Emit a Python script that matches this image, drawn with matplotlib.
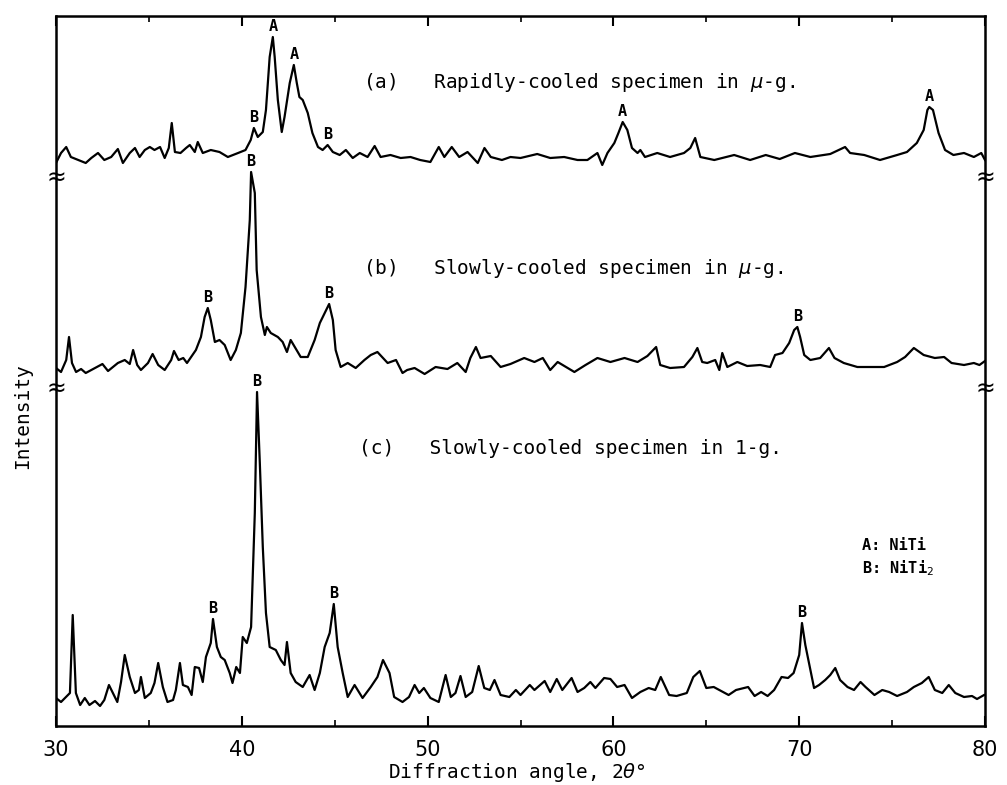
import numpy as np
import matplotlib
matplotlib.use("Agg")
import matplotlib.pyplot as plt
from matplotlib.ticker import MultipleLocator

#-- DATI (intensita' in unita' arbitrarie)

# (a) rapidly-cooled, mu-g
x_a = [30.0, 30.27, 30.55, 30.8, 31.2, 31.6, 31.9, 32.26, 32.6, 32.97, 33.33, 33.6, 33.97, 34.25,
       34.5, 34.78, 35.05, 35.3, 35.6, 35.85, 36.07, 36.23, 36.4, 36.7, 37.0, 37.2, 37.47, 37.63,
       37.9, 38.33, 38.8, 39.25, 39.8, 40.2, 40.48, 40.65, 40.86, 41.13, 41.3, 41.5, 41.67, 41.77,
       41.94, 42.15, 42.3, 42.58, 42.8, 42.96, 43.1, 43.28, 43.55, 43.8, 44.1, 44.35, 44.62, 44.9,
       45.27, 45.6, 45.97, 46.35, 46.77, 47.15, 47.47, 48.0, 48.55, 49.08, 49.6, 50.15, 50.6, 50.9,
       51.3, 51.7, 52.15, 52.7, 53.06, 53.4, 54.0, 54.46, 55.0, 55.9, 56.6, 57.35, 58.07, 58.6,
       59.14, 59.4, 59.68, 60.05, 60.27, 60.5, 60.75, 61.0, 61.3, 61.45, 61.7, 62.36, 63.05, 63.8,
       64.14, 64.4, 64.68, 65.43, 66.5, 67.36, 68.2, 68.95, 69.77, 70.6, 71.67, 72.47, 72.74, 73.5,
       74.35, 75.27, 75.8, 76.33, 76.7, 76.9, 77.0, 77.2, 77.5, 77.85, 78.3, 78.87, 79.4, 79.8, 80.0]
y_a = [563, 573, 579, 569, 566, 563, 568, 573, 566, 569, 577, 563, 573, 578,
       569, 576, 579, 576, 579, 568, 578, 603, 574, 573, 578, 581, 574, 584,
       573, 576, 574, 569, 573, 576, 586, 598, 589, 594, 616, 669, 689, 669,
       626, 594, 609, 643, 661, 643, 629, 626, 613, 593, 579, 576, 581, 574,
       571, 576, 568, 573, 569, 580, 569, 571, 568, 569, 566, 564, 579, 569,
       579, 569, 574, 563, 578, 569, 566, 569, 568, 572, 568, 569, 566, 566,
       573, 561, 573, 583, 593, 604, 596, 578, 573, 576, 569, 573, 569, 573,
       578, 588, 569, 566, 571, 566, 571, 567, 573, 569, 572, 579, 573, 571,
       566, 571, 574, 583, 596, 616, 619, 616, 593, 576, 571, 573, 569, 573, 566]

# (b) slowly-cooled, mu-g
x_b = [30.0, 30.27, 30.55, 30.7, 30.86, 31.08, 31.35, 31.6, 32.1, 32.5, 32.8, 33.33, 33.7, 33.97,
       34.15, 34.37, 34.57, 34.95, 35.2, 35.5, 35.85, 36.2, 36.35, 36.6, 36.85, 37.05, 37.27, 37.53,
       37.8, 38.0, 38.17, 38.33, 38.55, 38.8, 39.08, 39.4, 39.68, 39.95, 40.2, 40.43, 40.5, 40.7,
       40.8, 41.03, 41.24, 41.35, 41.56, 41.94, 42.2, 42.43, 42.63, 42.85, 43.17, 43.55, 43.92, 44.2,
       44.46, 44.7, 44.9, 45.05, 45.32, 45.7, 46.13, 46.6, 46.94, 47.3, 47.85, 48.3, 48.65, 48.9,
       49.3, 49.84, 50.43, 51.07, 51.6, 52.05, 52.3, 52.6, 52.85, 53.4, 53.93, 54.46, 55.2, 55.75,
       56.2, 56.6, 57.0, 57.9, 58.5, 59.14, 59.84, 60.6, 61.3, 61.83, 62.3, 62.52, 63.05, 63.8,
       64.25, 64.52, 64.78, 65.05, 65.48, 65.7, 65.86, 66.13, 66.67, 67.2, 67.9, 68.44, 68.7, 69.1,
       69.46, 69.73, 69.9, 70.05, 70.27, 70.6, 71.13, 71.6, 71.9, 72.4, 73.13, 74.0, 74.57, 75.27,
       75.7, 76.17, 76.7, 77.3, 77.8, 78.2, 78.87, 79.4, 79.7, 80.0]
y_b = [358, 354, 366, 389, 363, 354, 357, 353, 358, 362, 355, 363, 366, 362,
       376, 361, 356, 363, 372, 361, 356, 366, 375, 366, 368, 363, 369, 376,
       389, 409, 418, 406, 384, 386, 381, 366, 376, 393, 439, 506, 554, 533,
       456, 409, 391, 399, 393, 389, 384, 374, 386, 379, 369, 369, 386, 403,
       413, 422, 406, 376, 359, 363, 358, 366, 371, 374, 363, 366, 353, 356,
       358, 352, 359, 357, 363, 354, 368, 379, 368, 370, 359, 362, 368, 364,
       368, 356, 364, 354, 361, 368, 364, 368, 364, 370, 379, 361, 358, 359,
       369, 378, 364, 363, 366, 356, 373, 359, 364, 360, 361, 359, 371, 373,
       383, 396, 399, 389, 371, 366, 368, 378, 368, 363, 359, 359, 359, 364,
       369, 378, 371, 368, 369, 363, 361, 363, 361, 365]

# (c) slowly-cooled, 1-g
x_c = [30.0, 30.27, 30.75, 30.9, 31.07, 31.3, 31.55, 31.8, 32.1, 32.37, 32.6, 32.85, 33.06, 33.3,
       33.5, 33.7, 33.97, 34.25, 34.46, 34.57, 34.78, 35.1, 35.3, 35.5, 35.75, 36.0, 36.3, 36.45,
       36.67, 36.83, 37.1, 37.3, 37.47, 37.7, 37.9, 38.07, 38.33, 38.45, 38.66, 38.87, 39.08, 39.35,
       39.5, 39.7, 39.9, 40.05, 40.27, 40.5, 40.7, 40.82, 40.97, 41.13, 41.3, 41.5, 41.83, 42.1,
       42.3, 42.43, 42.63, 42.9, 43.28, 43.65, 43.92, 44.2, 44.46, 44.73, 44.95, 45.16, 45.43, 45.7,
       46.07, 46.5, 46.94, 47.3, 47.6, 47.95, 48.2, 48.65, 49.0, 49.3, 49.55, 49.8, 50.15, 50.6,
       50.97, 51.25, 51.5, 51.77, 52.05, 52.4, 52.75, 53.05, 53.35, 53.6, 53.93, 54.4, 54.75, 55.0,
       55.5, 55.75, 56.3, 56.6, 56.95, 57.25, 57.75, 58.07, 58.43, 58.76, 59.03, 59.5, 59.84, 60.2,
       60.6, 61.0, 61.45, 61.9, 62.25, 62.55, 63.0, 63.4, 63.95, 64.3, 64.65, 65.0, 65.4, 65.7,
       66.2, 66.6, 67.25, 67.6, 67.95, 68.3, 68.65, 69.05, 69.4, 69.7, 70.0, 70.15, 70.33, 70.6,
       70.8, 71.07, 71.4, 71.67, 71.94, 72.2, 72.6, 72.95, 73.3, 73.57, 74.05, 74.47, 74.84, 75.27,
       75.8, 76.17, 76.6, 76.97, 77.3, 77.7, 78.05, 78.4, 78.87, 79.3, 79.57, 79.95]
y_c = [28, 24, 33, 111, 33, 21, 28, 21, 25, 20, 26, 41, 33, 24,
       44, 71, 49, 33, 36, 49, 28, 33, 43, 63, 39, 24, 26, 36,
       63, 41, 39, 31, 59, 58, 44, 69, 83, 107, 79, 69, 66, 53,
       43, 59, 53, 89, 83, 99, 213, 334, 263, 179, 113, 79, 76, 66,
       61, 84, 53, 44, 39, 51, 36, 53, 79, 93, 122, 79, 53, 29,
       41, 28, 39, 49, 66, 53, 29, 24, 29, 41, 33, 38, 28, 24,
       51, 29, 33, 50, 29, 34, 60, 38, 36, 46, 31, 29, 36, 31,
       41, 36, 45, 34, 47, 36, 48, 34, 38, 44, 38, 48, 47, 39,
       41, 28, 34, 38, 36, 49, 31, 30, 33, 49, 55, 38, 39, 36,
       31, 36, 39, 30, 34, 30, 36, 49, 48, 53, 71, 103, 81, 56,
       38, 41, 46, 51, 58, 46, 39, 36, 44, 39, 31, 36, 34, 30,
       34, 39, 43, 49, 36, 33, 41, 33, 29, 30, 27, 31]

# picchi identificati (A: NiTi, B: NiTi2)
pk_a = [40.65, 41.67, 42.8, 44.62, 60.5, 77.0]
ph_a = ['B', 'A', 'A', 'B', 'A', 'A']
pk_b = [38.17, 40.5, 44.7, 69.9]
ph_b = ['B', 'B', 'B', 'B']
pk_c = [38.45, 40.82, 44.95, 70.15]
ph_c = ['B', 'B', 'B', 'B']

titoli = ['(a)   Rapidly-cooled specimen in $\\mu$-g.',
          '(b)   Slowly-cooled specimen in $\\mu$-g.',
          '(c)   Slowly-cooled specimen in 1-g.']
tick_x = [30, 40, 50, 60, 70, 80]
tagli = [337, 548]   # livelli delle interruzioni dell'asse

#-- FIGURA
DPI = 100
fig = plt.figure(figsize=(1007/DPI, 785/DPI), dpi=DPI)
ax = fig.add_axes([56/1007, 1-726/785, 929/1007, 710/785])
MONO = 'DejaVu Sans Mono'

for xx, yy in [(x_a, y_a), (x_b, y_b), (x_c, y_c)]:
    ax.plot(xx, yy, color='black', lw=1.6, solid_joinstyle='round')

for pk, ph, xx, yy in [(pk_a, ph_a, x_a, y_a), (pk_b, ph_b, x_b, y_b), (pk_c, ph_c, x_c, y_c)]:
    for p, s in zip(pk, ph):
        ax.annotate(s, (p, np.interp(p, xx, yy)), xytext=(0, 2), textcoords='offset points',
                    ha='center', va='bottom', fontsize=11, family=MONO, fontweight='bold')

ax.text(46.5, 644, titoli[0], fontsize=14, family=MONO, va='center', ha='left')
ax.text(46.5, 458, titoli[1], fontsize=14, family=MONO, va='center', ha='left')
ax.text(46.3, 278, titoli[2], fontsize=14, family=MONO, va='center', ha='left')
ax.text(73.4, 181, 'A: NiTi', fontsize=11, family=MONO, fontweight='bold', va='center')
ax.text(73.4, 158, 'B: NiTi$_2$', fontsize=11, family=MONO, fontweight='bold', va='center')

for t in tagli:
    for xs in (30, 80):
        ax.text(xs, t, '≈', fontsize=17, ha='center', va='center', clip_on=False)

ax.set_xlim(30, 80)
ax.set_ylim(0, 710)
ax.set_yticks([])
ax.xaxis.set_major_locator(MultipleLocator(10))
ax.xaxis.set_minor_locator(MultipleLocator(5))
ax.set_xticks(tick_x)
ax.set_xticklabels([str(t) for t in tick_x], fontsize=15)
ax.tick_params(axis='x', which='major', direction='in', length=7, width=1.5, top=True, pad=10)
ax.tick_params(axis='x', which='minor', direction='in', length=4, width=1.2, top=True)
for sp in ax.spines.values():
    sp.set_linewidth(1.8)

ax.set_xlabel('Diffraction angle, 2$\\theta$°', fontsize=14, family=MONO, va='center')
ax.xaxis.set_label_coords(0.496, -0.066)
ax.set_ylabel('Intensity', fontsize=14, family=MONO, va='center')
ax.yaxis.set_label_coords(-0.036, 0.437)

plt.savefig('out.png', dpi=DPI)
